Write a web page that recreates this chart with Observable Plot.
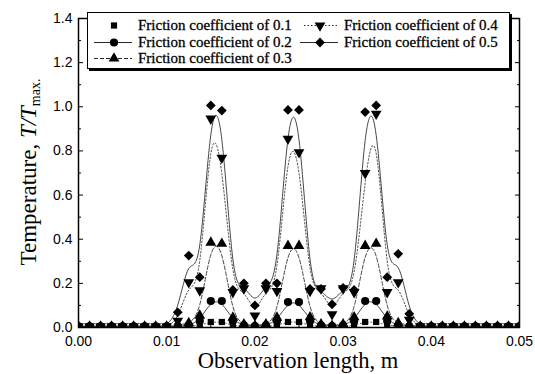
<!DOCTYPE html>
<html><head><meta charset="utf-8">
<script src="https://cdn.jsdelivr.net/npm/d3@7"></script>
<script src="https://cdn.jsdelivr.net/npm/@observablehq/plot@0.6"></script>
<style>
html,body{margin:0;padding:0;background:#fff;}
#wrap{position:relative;width:535px;height:374px;overflow:hidden;}
#legend{position:absolute;left:87px;top:12px;width:421px;height:55px;border:1px solid #000;box-shadow:2px 2px 0 #000;background:#fff;font-family:"Liberation Serif","Times New Roman",serif;font-size:15px;color:#000;-webkit-text-stroke:0.3px #000;}
.item{position:absolute;height:16px;line-height:16px;white-space:nowrap;}
.item svg{position:absolute;top:0;}
.item span{position:absolute;top:0;}
</style></head><body><div id="wrap"><div id="legend"></div></div>
<script>
// Observation positions (m)
const xPos = [0,0.00125,0.0025,0.00375,0.005,0.00625,0.0075,0.00875,0.01,0.01125,
  0.0125,0.01375,0.015,0.01625,0.0175,0.01875,0.02,0.02125,0.0225,0.02375,
  0.025,0.02625,0.0275,0.02875,0.03,0.03125,0.0325,0.03375,0.035,0.03625,
  0.0375,0.03875,0.04,0.04125,0.0425,0.04375,0.045,0.04625,0.0475,0.04875,0.05];

const mu01 = [0.005,0.005,0.005,0.005,0.005,0.005,0.005,0.005,0.005,0.005,
  0.005,0.01,0.025,0.025,0.01,0.005,0.005,0.005,0.01,0.025,
  0.025,0.01,0.005,0.005,0.005,0.01,0.025,0.025,0.01,0.005,
  0.005,0.005,0.005,0.005,0.005,0.005,0.005,0.005,0.005,0.005,0.005];
const mu02 = [0.005,0.005,0.005,0.005,0.005,0.005,0.005,0.005,0.005,0.005,
  0.01,0.03,0.12,0.12,0.03,0.01,0.006,0.01,0.03,0.115,
  0.115,0.03,0.01,0.006,0.01,0.03,0.12,0.12,0.03,0.01,
  0.005,0.005,0.005,0.005,0.005,0.005,0.005,0.005,0.005,0.005,0.005];
const mu03 = [0.005,0.005,0.005,0.005,0.005,0.005,0.005,0.005,0.005,0.01,
  0.02,0.054,0.385,0.38,0.045,0.015,0.008,0.015,0.045,0.37,
  0.37,0.047,0.015,0.008,0.015,0.047,0.37,0.38,0.05,0.02,
  0.01,0.005,0.005,0.005,0.005,0.005,0.005,0.005,0.005,0.005,0.005];
const mu04 = [0.005,0.005,0.005,0.005,0.005,0.005,0.005,0.005,0.005,0.03,
  0.205,0.168,0.946,0.769,0.16,0.177,0.054,0.177,0.165,0.855,
  0.794,0.165,0.177,0.06,0.177,0.16,0.70,0.968,0.16,0.205,
  0.035,0.005,0.005,0.005,0.005,0.005,0.005,0.005,0.005,0.005,0.005];
const mu05 = [0.006,0.006,0.006,0.006,0.006,0.006,0.006,0.006,0.006,0.069,
  0.326,0.228,1.006,0.983,0.17,0.2,0.1,0.2,0.2,0.986,
  0.986,0.175,0.175,0.105,0.18,0.17,0.976,1.006,0.228,0.334,
  0.062,0.006,0.006,0.006,0.006,0.006,0.006,0.006,0.006,0.006,0.006];

const seriesLabels = ["Friction coefficient of 0.1","Friction coefficient of 0.2","Friction coefficient of 0.3","Friction coefficient of 0.4","Friction coefficient of 0.5"];
const xTickValues = [0,0.01,0.02,0.03,0.04,0.05];
const xMinorValues = [0.005,0.015,0.025,0.035,0.045];
const yTickValues = [0,0.2,0.4,0.6,0.8,1.0,1.2,1.4];
const yMinorValues = [0.1,0.3,0.5,0.7,0.9,1.1,1.3];

const triangleDown = {draw(ctx, size){
  const y = -Math.sqrt(size/(Math.sqrt(3)*3));
  ctx.moveTo(0, -y*2); ctx.lineTo(-Math.sqrt(3)*y, y); ctx.lineTo(Math.sqrt(3)*y, y); ctx.closePath();
}};

const styles = [
  {symbol:"square", d3sym:d3.symbolSquare, r:3.5, dash:"1,2.5"},
  {symbol:"circle", d3sym:d3.symbolCircle, r:4.1, dash:null},
  {symbol:"triangle", d3sym:d3.symbolTriangle, r:4.0, dash:"4,2"},
  {symbol:triangleDown, d3sym:triangleDown, r:4.0, dash:"1.5,2"},
  {symbol:"diamond2", d3sym:d3.symbolDiamond2, r:4.4, dash:null}
];
const allSeries = [mu01, mu02, mu03, mu04, mu05];
const tables = allSeries.map(vals => vals.map((v,i) => ({x:xPos[i], y:v})));

const lineMarks = tables.map((t,k) => Plot.line(t, {x:"x", y:"y", curve:"basis", stroke:"#333", strokeWidth:0.9, strokeDasharray:styles[k].dash, clip:true}));
const dotMarks = tables.map((t,k) => Plot.dot(t, {x:"x", y:"y", symbol:styles[k].symbol, r:styles[k].r, fill:"#000", stroke:"none", clip:true}));

const plot = Plot.plot({
  width:535, height:374,
  marginLeft:78, marginRight:16, marginTop:18, marginBottom:47,
  x:{domain:[0,0.05], label:null},
  y:{domain:[0,1.4], label:null},
  style:{fontFamily:"'Liberation Sans', Arial, sans-serif", fontSize:"14px", background:"transparent", color:"#000"},
  marks:[
    Plot.axisY(yTickValues, {anchor:"left", tickSize:0, tickPadding:6, tickFormat:d=>d.toFixed(1), label:null}),
    Plot.axisY(yTickValues, {anchor:"left", tickSize:-5, text:null, label:null}),
    Plot.axisY(yMinorValues, {anchor:"left", tickSize:-3, text:null, label:null}),
    Plot.axisY(yTickValues, {anchor:"right", tickSize:-5, text:null, label:null}),
    Plot.axisY(yMinorValues, {anchor:"right", tickSize:-3, text:null, label:null}),
    Plot.axisX(xTickValues, {anchor:"bottom", tickSize:0, tickPadding:9, tickFormat:d=>d.toFixed(2), label:null}),
    Plot.axisX(xTickValues, {anchor:"bottom", tickSize:-5, text:null, label:null}),
    Plot.axisX(xMinorValues, {anchor:"bottom", tickSize:-3, text:null, label:null}),
    Plot.axisX(xTickValues, {anchor:"top", tickSize:-5, text:null, label:null}),
    Plot.axisX(xMinorValues, {anchor:"top", tickSize:-3, text:null, label:null}),
    ...lineMarks,
    ...dotMarks,
    Plot.frame({stroke:"#000", strokeWidth:1.5})
  ]
});
const wrap = document.getElementById("wrap");
wrap.insertBefore(plot, wrap.firstChild);
plot.style.position = "absolute"; plot.style.left = "0"; plot.style.top = "0";

const svg = d3.select(plot);
// Y axis title
const yt = svg.append("text")
  .attr("transform","translate(36,172) rotate(-90)")
  .attr("text-anchor","middle")
  .style("font-family","'Liberation Serif','Times New Roman',serif")
  .style("font-size","23px").attr("fill","#000");
yt.append("tspan").text("Temperature, ");
yt.append("tspan").style("font-style","italic").text("T/T");
yt.append("tspan").attr("baseline-shift","-25%").style("font-size","14px").text("max.");
// X axis title
svg.append("text")
  .attr("x",298).attr("y",368)
  .attr("text-anchor","middle")
  .style("font-family","'Liberation Serif','Times New Roman',serif")
  .style("font-size","22.5px").attr("fill","#000")
  .text("Observation length, m");

// Legend
const legendPos = [
  {left:0, top:4, sw:[6,44], tx:50},
  {left:0, top:21, sw:[6,44], tx:50},
  {left:0, top:37, sw:[6,44], tx:50},
  {left:206, top:4, sw:[10,44], tx:50},
  {left:206, top:21, sw:[6,44], tx:50}
];
const legend = d3.select("#legend");
seriesLabels.forEach((lab,k) => {
  const p = legendPos[k];
  const it = legend.append("div").attr("class","item").style("left",p.left+"px").style("top",p.top+"px");
  const s = it.append("svg").attr("width",50).attr("height",16);
  if (k !== 0) {
    s.append("line").attr("x1",p.sw[0]).attr("x2",p.sw[1]).attr("y1",8.5).attr("y2",8.5)
      .attr("stroke","#2a2a2a").attr("stroke-width",1).attr("stroke-dasharray",styles[k].dash);
  }
  s.append("path").attr("transform","translate(26,8.5)")
    .attr("d", d3.symbol(styles[k].d3sym, Math.PI*styles[k].r*styles[k].r)())
    .attr("fill","#000");
  it.append("span").style("left",p.tx+"px").text(lab);
});
</script>
</body></html>
